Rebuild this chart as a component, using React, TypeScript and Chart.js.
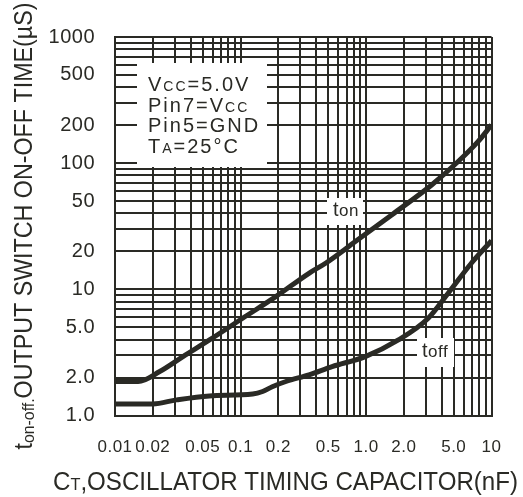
import React, { useEffect, useRef } from "react";
import { Chart, registerables } from "chart.js";

Chart.register(...registerables);

// ---- data ----
const tOnCapacitanceNF = [0.01, 0.0153, 0.0227, 0.0348, 0.0566, 0.104, 0.191, 0.351, 0.476, 0.822, 1.6, 3.33, 5.42, 7.8, 10];
const tOnTimeUs = [1.86, 1.86, 2.23, 2.93, 3.97, 5.9, 8.75, 13.4, 16.1, 23.9, 38.9, 67.2, 103, 148, 201];

const tOffCapacitanceNF = [0.01, 0.0201, 0.0308, 0.0566, 0.125, 0.15, 0.179, 0.23, 0.351, 0.537, 0.986, 1.81, 3.13, 4.51, 6.9, 10];
const tOffTimeUs = [1.236, 1.236, 1.33, 1.43, 1.48, 1.55, 1.69, 1.86, 2.1, 2.44, 2.93, 3.97, 5.9, 9.31, 16.1, 24.3];

// grid lines (log paper)
const xGridValues = [
  0.01, 0.02, 0.03, 0.04, 0.05, 0.06, 0.07, 0.08, 0.09,
  0.1, 0.2, 0.3, 0.4, 0.5, 0.6, 0.7, 0.8, 0.9,
  1, 2, 3, 4, 5, 6, 7, 8, 9, 10,
];
const yGridValues = [
  1, 2, 3, 4, 5, 6, 7, 8, 9,
  10, 20, 30, 40, 50, 60, 70, 80, 90,
  100, 200, 300, 400, 500, 600, 700, 800, 900, 1000,
];

// tick labels
const xLabelValues = [0.01, 0.02, 0.05, 0.1, 0.2, 0.5, 1, 2, 5, 10];
const xLabelTexts = ["0.01", "0.02", "0.05", "0.1", "0.2", "0.5", "1.0", "2.0", "5.0", "10"];
const yLabelValues = [1, 2, 5, 10, 20, 50, 100, 200, 500, 1000];
const yLabelTexts = ["1.0", "2.0", "5.0", "10", "20", "50", "100", "200", "500", "1000"];

const INK = "#2a2a25";
const FONT = "'Liberation Sans', Arial, sans-serif";

type Seg = { t: string; s: number; dy?: number };

function labelFor(v: number, values: number[], texts: string[]) {
  for (let i = 0; i < values.length; i++) {
    if (Math.abs(v - values[i]) / values[i] < 1e-6) return texts[i];
  }
  return "";
}

function segsWidth(ctx: CanvasRenderingContext2D, segs: Seg[]) {
  let w = 0;
  for (const s of segs) {
    ctx.font = `${s.s}px ${FONT}`;
    w += ctx.measureText(s.t).width;
  }
  return w;
}

function drawSegs(ctx: CanvasRenderingContext2D, segs: Seg[], x: number, y: number) {
  let cx = x;
  for (const s of segs) {
    ctx.font = `${s.s}px ${FONT}`;
    ctx.fillText(s.t, cx, y + (s.dy || 0));
    cx += ctx.measureText(s.t).width;
  }
}

const textPlugin = {
  id: "textPlugin",
  beforeDraw(chart: any) {
    const ctx = chart.ctx as CanvasRenderingContext2D;
    ctx.save();
    ctx.fillStyle = "#ffffff";
    ctx.fillRect(0, 0, chart.width, chart.height);
    ctx.restore();
    (ctx as any).letterSpacing = "0.5px";
  },
  beforeDatasetsDraw(chart: any) {
    const ctx = chart.ctx as CanvasRenderingContext2D;
    ctx.save();
    // white boxes over grid
    ctx.fillStyle = "#ffffff";
    ctx.fillRect(137, 63, 130, 104);
    ctx.fillRect(327, 198, 36, 27);
    ctx.fillRect(417, 338, 37, 29);

    ctx.fillStyle = INK;
    ctx.textAlign = "left";
    ctx.textBaseline = "alphabetic";
    (ctx as any).letterSpacing = "2px";
    drawSegs(ctx, [{ t: "V", s: 20 }, { t: "CC", s: 14 }, { t: "=5.0V", s: 20 }], 148, 91);
    drawSegs(ctx, [{ t: "Pin7=V", s: 20 }, { t: "CC", s: 14 }], 148, 111.5);
    drawSegs(ctx, [{ t: "Pin5=GND", s: 20 }], 148, 132);
    drawSegs(ctx, [{ t: "T", s: 20 }, { t: "A", s: 14 }, { t: "=25°C", s: 20 }], 148, 153);
    (ctx as any).letterSpacing = "0.5px";
    drawSegs(ctx, [{ t: "t", s: 20 }, { t: "on", s: 17 }], 333, 216);
    drawSegs(ctx, [{ t: "t", s: 20 }, { t: "off", s: 17 }], 422, 357);
    ctx.restore();
  },
  afterDraw(chart: any) {
    const ctx = chart.ctx as CanvasRenderingContext2D;
    ctx.save();
    (ctx as any).letterSpacing = "0px";
    ctx.fillStyle = INK;
    ctx.textAlign = "left";
    ctx.textBaseline = "alphabetic";

    // x-axis title
    const xs: Seg[] = [{ t: "C", s: 25 }, { t: "T", s: 17 }, { t: ",OSCILLATOR TIMING CAPACITOR(nF)", s: 25 }];
    const xw = segsWidth(ctx, xs);
    ctx.save();
    ctx.translate(53, 490);
    ctx.scale(465 / xw, 1);
    drawSegs(ctx, xs, 0, 0);
    ctx.restore();

    // y-axis title
    const ys: Seg[] = [{ t: "t", s: 25 }, { t: "on-off.", s: 17, dy: 2 }, { t: "OUTPUT SWITCH ON-OFF TIME(µS)", s: 25 }];
    const yw = segsWidth(ctx, ys);
    ctx.save();
    ctx.translate(32, 226);
    ctx.rotate(-Math.PI / 2);
    ctx.scale(447 / yw, 1);
    drawSegs(ctx, ys, -yw / 2, 0);
    ctx.restore();

    ctx.restore();
  },
};

export default function App() {
  const ref = useRef<HTMLCanvasElement | null>(null);

  useEffect(() => {
    document.body.style.margin = "0";
    const canvas = ref.current;
    if (!canvas) return;
    const chart = new Chart(canvas, {
      type: "line",
      data: {
        datasets: [
          {
            label: "ton",
            data: tOnCapacitanceNF.map((x, i) => ({ x, y: tOnTimeUs[i] })),
            borderColor: INK,
            borderWidth: 5,
            pointRadius: 0,
            fill: false,
            cubicInterpolationMode: "monotone",
            borderCapStyle: "butt",
          },
          {
            label: "toff",
            data: tOffCapacitanceNF.map((x, i) => ({ x, y: tOffTimeUs[i] })),
            borderColor: INK,
            borderWidth: 5,
            pointRadius: 0,
            fill: false,
            cubicInterpolationMode: "monotone",
            borderCapStyle: "butt",
          },
        ],
      },
      options: {
        responsive: false,
        animation: false,
        devicePixelRatio: 1,
        layout: { padding: { top: 37, right: 29.5, left: 0, bottom: 0 } },
        plugins: { legend: { display: false }, tooltip: { enabled: false } },
        scales: {
          x: {
            type: "logarithmic",
            min: 0.01,
            max: 10,
            afterBuildTicks: (scale: any) => {
              scale.ticks = xGridValues.map((v) => ({ value: v }));
            },
            afterFit: (scale: any) => {
              scale.height = 81.5;
            },
            grid: { color: INK, lineWidth: 2, drawTicks: false },
            border: { display: true, color: INK, width: 2 },
            ticks: {
              autoSkip: false,
              maxRotation: 0,
              minRotation: 0,
              padding: 22,
              color: INK,
              font: { family: FONT, size: 17 },
              callback: (v: any) => labelFor(Number(v), xLabelValues, xLabelTexts),
            },
          },
          y: {
            type: "logarithmic",
            min: 1,
            max: 1000,
            afterBuildTicks: (scale: any) => {
              scale.ticks = yGridValues.map((v) => ({ value: v }));
            },
            afterFit: (scale: any) => {
              scale.width = 115;
            },
            grid: { color: INK, lineWidth: 2, drawTicks: false },
            border: { display: true, color: INK, width: 2 },
            ticks: {
              autoSkip: false,
              padding: 20,
              color: INK,
              font: { family: FONT, size: 20 },
              callback: (v: any) => labelFor(Number(v), yLabelValues, yLabelTexts),
            },
          },
        },
      },
      plugins: [textPlugin],
    } as any);
    return () => chart.destroy();
  }, []);

  return (
    <div style={{ width: 523, height: 497, background: "#fff" }}>
      <canvas ref={ref} width={523} height={497} style={{ display: "block", width: 523, height: 497 }} />
    </div>
  );
}
